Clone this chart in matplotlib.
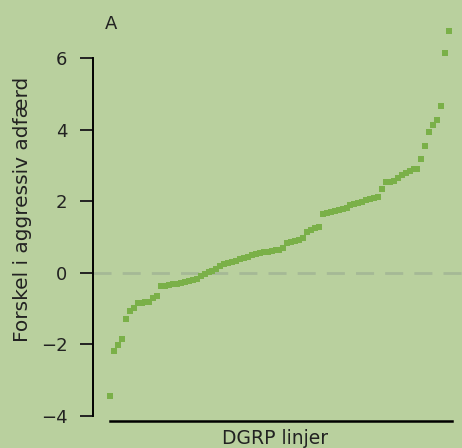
import numpy as np
import matplotlib.pyplot as plt

# sorted difference per DGRP line
diff = [-3.45, -2.18, -2.03, -1.84, -1.30, -1.06, -0.98, -0.84, -0.83, -0.82,
        -0.81, -0.70, -0.64, -0.38, -0.36, -0.34, -0.32, -0.30, -0.28, -0.26,
        -0.24, -0.21, -0.18, -0.08, -0.02, 0.02, 0.06, 0.12, 0.20, 0.25,
        0.27, 0.30, 0.34, 0.38, 0.42, 0.45, 0.50, 0.53, 0.55, 0.57,
        0.59, 0.61, 0.63, 0.65, 0.68, 0.84, 0.87, 0.90, 0.93, 0.96,
        1.15, 1.20, 1.24, 1.28, 1.65, 1.67, 1.70, 1.74, 1.76, 1.79,
        1.82, 1.88, 1.93, 1.96, 1.99, 2.03, 2.06, 2.09, 2.12, 2.35,
        2.54, 2.54, 2.56, 2.66, 2.74, 2.79, 2.85, 2.89, 2.91, 3.19,
        3.54, 3.92, 4.13, 4.27, 4.66, 6.13, 6.76]
yticks = [-4, -2, 0, 2, 4, 6]

bg = '#b9d09e'
green = '#7ab048'

fig = plt.figure(figsize=(4.62, 4.48), dpi=100, facecolor=bg)
ax = fig.add_axes([93 / 462, 32 / 448, 369 / 462, 358 / 448], facecolor=bg)

x = np.arange(len(diff))
ax.axhline(0, color='#a5b996', lw=2, dashes=(6.5, 4), zorder=1)
ax.plot(x, diff, 's', color=green, ms=4.4, mew=0, zorder=2, clip_on=False)

ax.set_xlim(-4.31, 89.3)
ax.set_ylim(-4, 6)
ax.set_yticks(yticks)
ax.set_yticklabels([str(t).replace('-', '\u2212') for t in yticks])
ax.set_xticks([])

for s in ['top', 'right']:
    ax.spines[s].set_visible(False)
ax.spines['left'].set_linewidth(1.4)
ax.spines['bottom'].set_linewidth(1.8)
ax.spines['bottom'].set_position(('outward', 3.6))
ax.spines['bottom'].set_bounds(0, 86.8)
ax.tick_params(axis='y', length=9.4, width=1.4, pad=9, labelsize=13, colors='#222222')

ax.set_ylabel('Forskel i aggressiv adfærd', fontsize=14.5, color='#222222')
ax.yaxis.set_label_coords(-61 / 369, (416 - 209) / 358)
ax.set_xlabel('DGRP linjer', fontsize=13.5, color='#222222')
ax.xaxis.set_label_coords((275 - 93) / 369, -13 / 358)
fig.text(105 / 462, 1 - 24 / 448, 'A', fontsize=13, color='#222222', va='center')

plt.savefig('out.png', dpi=100, facecolor=bg)
